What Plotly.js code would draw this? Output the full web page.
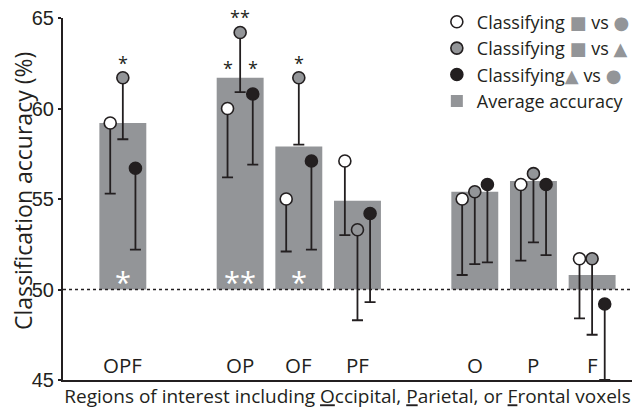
<!DOCTYPE html>
<html>
<head>
<meta charset="utf-8">
<script src="https://cdn.plot.ly/plotly-3.0.1.min.js"></script>
<style>html,body{margin:0;padding:0;background:#fff;}#chart{width:635px;height:410px;}</style>
</head>
<body>
<div id="chart"></div>
<script>
// ---- data ----
const groups = ['OPF', 'OP', 'OF', 'PF', 'O', 'P', 'F'];
const groupPos = [0, 2, 3, 4, 6, 7, 8];
const avgAcc = [59.2, 61.7, 57.9, 54.9, 55.4, 56.0, 50.8];
const sqVsCircle = [59.2, 60.0, 55.0, 57.1, 55.0, 55.8, 51.7];
const sqVsCircleLow = [55.3, 56.2, 52.1, 53.0, 50.8, 51.6, 48.4];
const sqVsTri = [61.7, 64.2, 61.7, 53.3, 55.4, 56.4, 51.7];
const sqVsTriLow = [58.3, 60.9, 58.0, 48.3, 51.4, 52.6, 47.5];
const triVsCircle = [56.7, 60.8, 57.1, 54.2, 55.8, 55.8, 49.2];
const triVsCircleLow = [52.2, 56.9, 52.2, 49.3, 51.5, 51.9, 45.0];
const sigAvg = ['*', '**', '*', '', '', '', ''];
const sigSqCircle = ['', '*', '', '', '', '', ''];
const sigSqTri = ['*', '**', '*', '', '', '', ''];
const sigTriCircle = ['', '*', '', '', '', '', ''];
const chance = 50;

// ---- style ----
const INK = '#231f20';
const GREY = '#939598';
const FONT = 'Open Sans, Noto Sans, sans-serif';
const OFF = 0.215;
const glyph = (g, sz) => `<span style="font-family:'DejaVu Sans';font-size:${sz}px;color:${GREY}">${g}</span>`;
const SQ = glyph('■', 18), CI = glyph('●', 18), TR = glyph('▲', 18);

function pts(vals, low, dx, fill, name) {
  return {
    type: 'scatter', mode: 'markers', name: name,
    x: groupPos.map(p => p + dx), y: vals,
    cliponaxis: false,
    marker: {size: 12, color: fill, line: {color: INK, width: 1.6}},
    error_y: {type: 'data', symmetric: false,
      array: vals.map(() => 0),
      arrayminus: vals.map((v, i) => v - low[i]),
      color: INK, thickness: 1.8, width: 5.5}
  };
}

const traces = [
  {type: 'bar', name: 'Average accuracy', x: groupPos, base: chance,
   y: avgAcc.map(v => v - chance), width: 0.8,
   marker: {color: GREY, line: {width: 0}}, legendrank: 4},
  Object.assign(pts(sqVsCircle, sqVsCircleLow, -OFF, '#ffffff', 'Classifying ' + SQ + ' vs ' + CI), {legendrank: 1}),
  Object.assign(pts(sqVsTri, sqVsTriLow, 0, GREY, 'Classifying ' + SQ + ' vs ' + TR), {legendrank: 2}),
  Object.assign(pts(triVsCircle, triVsCircleLow, OFF, INK, 'Classifying' + TR + ' vs ' + CI), {legendrank: 3})
];

const annotations = [{
  xref: 'paper', yref: 'paper', x: 0, y: 0.522, xshift: -40, textangle: -90,
  xanchor: 'center', yanchor: 'middle',
  text: 'Classification accuracy (%)', showarrow: false,
  font: {family: FONT, size: 23, color: INK}
}];
groupPos.forEach((p, i) => {
  annotations.push({x: p, y: 0, yref: 'paper', text: groups[i], showarrow: false,
    yanchor: 'bottom', yshift: -1, font: {family: FONT, size: 20.5, color: INK}});
  if (sigAvg[i]) annotations.push({x: p, y: chance, yref: 'y', text: sigAvg[i], showarrow: false,
    yanchor: 'bottom', yshift: -13, font: {family: FONT, size: 29, color: '#ffffff'}});
  if (sigSqTri[i]) annotations.push({x: p, y: sqVsTri[i], text: sigSqTri[i], showarrow: false,
    yanchor: 'bottom', yshift: 1, font: {family: FONT, size: 18, color: INK}});
  if (sigSqCircle[i]) annotations.push({x: p - OFF, y: avgAcc[i], text: sigSqCircle[i], showarrow: false,
    yanchor: 'bottom', yshift: -4, font: {family: FONT, size: 18, color: INK}});
  if (sigTriCircle[i]) annotations.push({x: p + OFF, y: avgAcc[i], text: sigTriCircle[i], showarrow: false,
    yanchor: 'bottom', yshift: -4, font: {family: FONT, size: 18, color: INK}});
});

const layout = {
  width: 635, height: 410,
  margin: {l: 63, r: 0, t: 18, b: 30},
  paper_bgcolor: '#ffffff', plot_bgcolor: '#ffffff',
  font: {family: FONT, color: INK},
  showlegend: true,
  legend: {x: 1.005, xanchor: 'right', y: 1.04, yanchor: 'top', bgcolor: 'rgba(0,0,0,0)',
    font: {family: FONT, size: 18, color: INK}, tracegroupgap: 0},
  xaxis: {range: [-1.02, 8.68], tickvals: groupPos, showticklabels: false,
    ticks: '', showgrid: false, zeroline: false,
    showline: true, linecolor: INK, linewidth: 2,
    title: {text: 'Regions of interest including <u>O</u>ccipital, <u>P</u>arietal, or <u>F</u>rontal voxels',
      font: {family: FONT, size: 19, color: INK}, standoff: 9}},
  yaxis: {range: [45, 65], dtick: 5, tick0: 45, ticks: 'outside', ticklen: 3, tickwidth: 2, tickcolor: INK,
    showgrid: false, zeroline: false, showline: true, linecolor: INK, linewidth: 2,
    tickfont: {family: 'Liberation Sans, Arial, sans-serif', size: 20, color: INK}},
  shapes: [{type: 'line', xref: 'paper', x0: 0, x1: 1, yref: 'y', y0: chance, y1: chance,
    line: {color: INK, width: 1.5, dash: '3px,3px'}, layer: 'above'}],
  annotations: annotations
};

Plotly.newPlot('chart', traces, layout, {displayModeBar: false, staticPlot: true});
</script>
</body>
</html>
